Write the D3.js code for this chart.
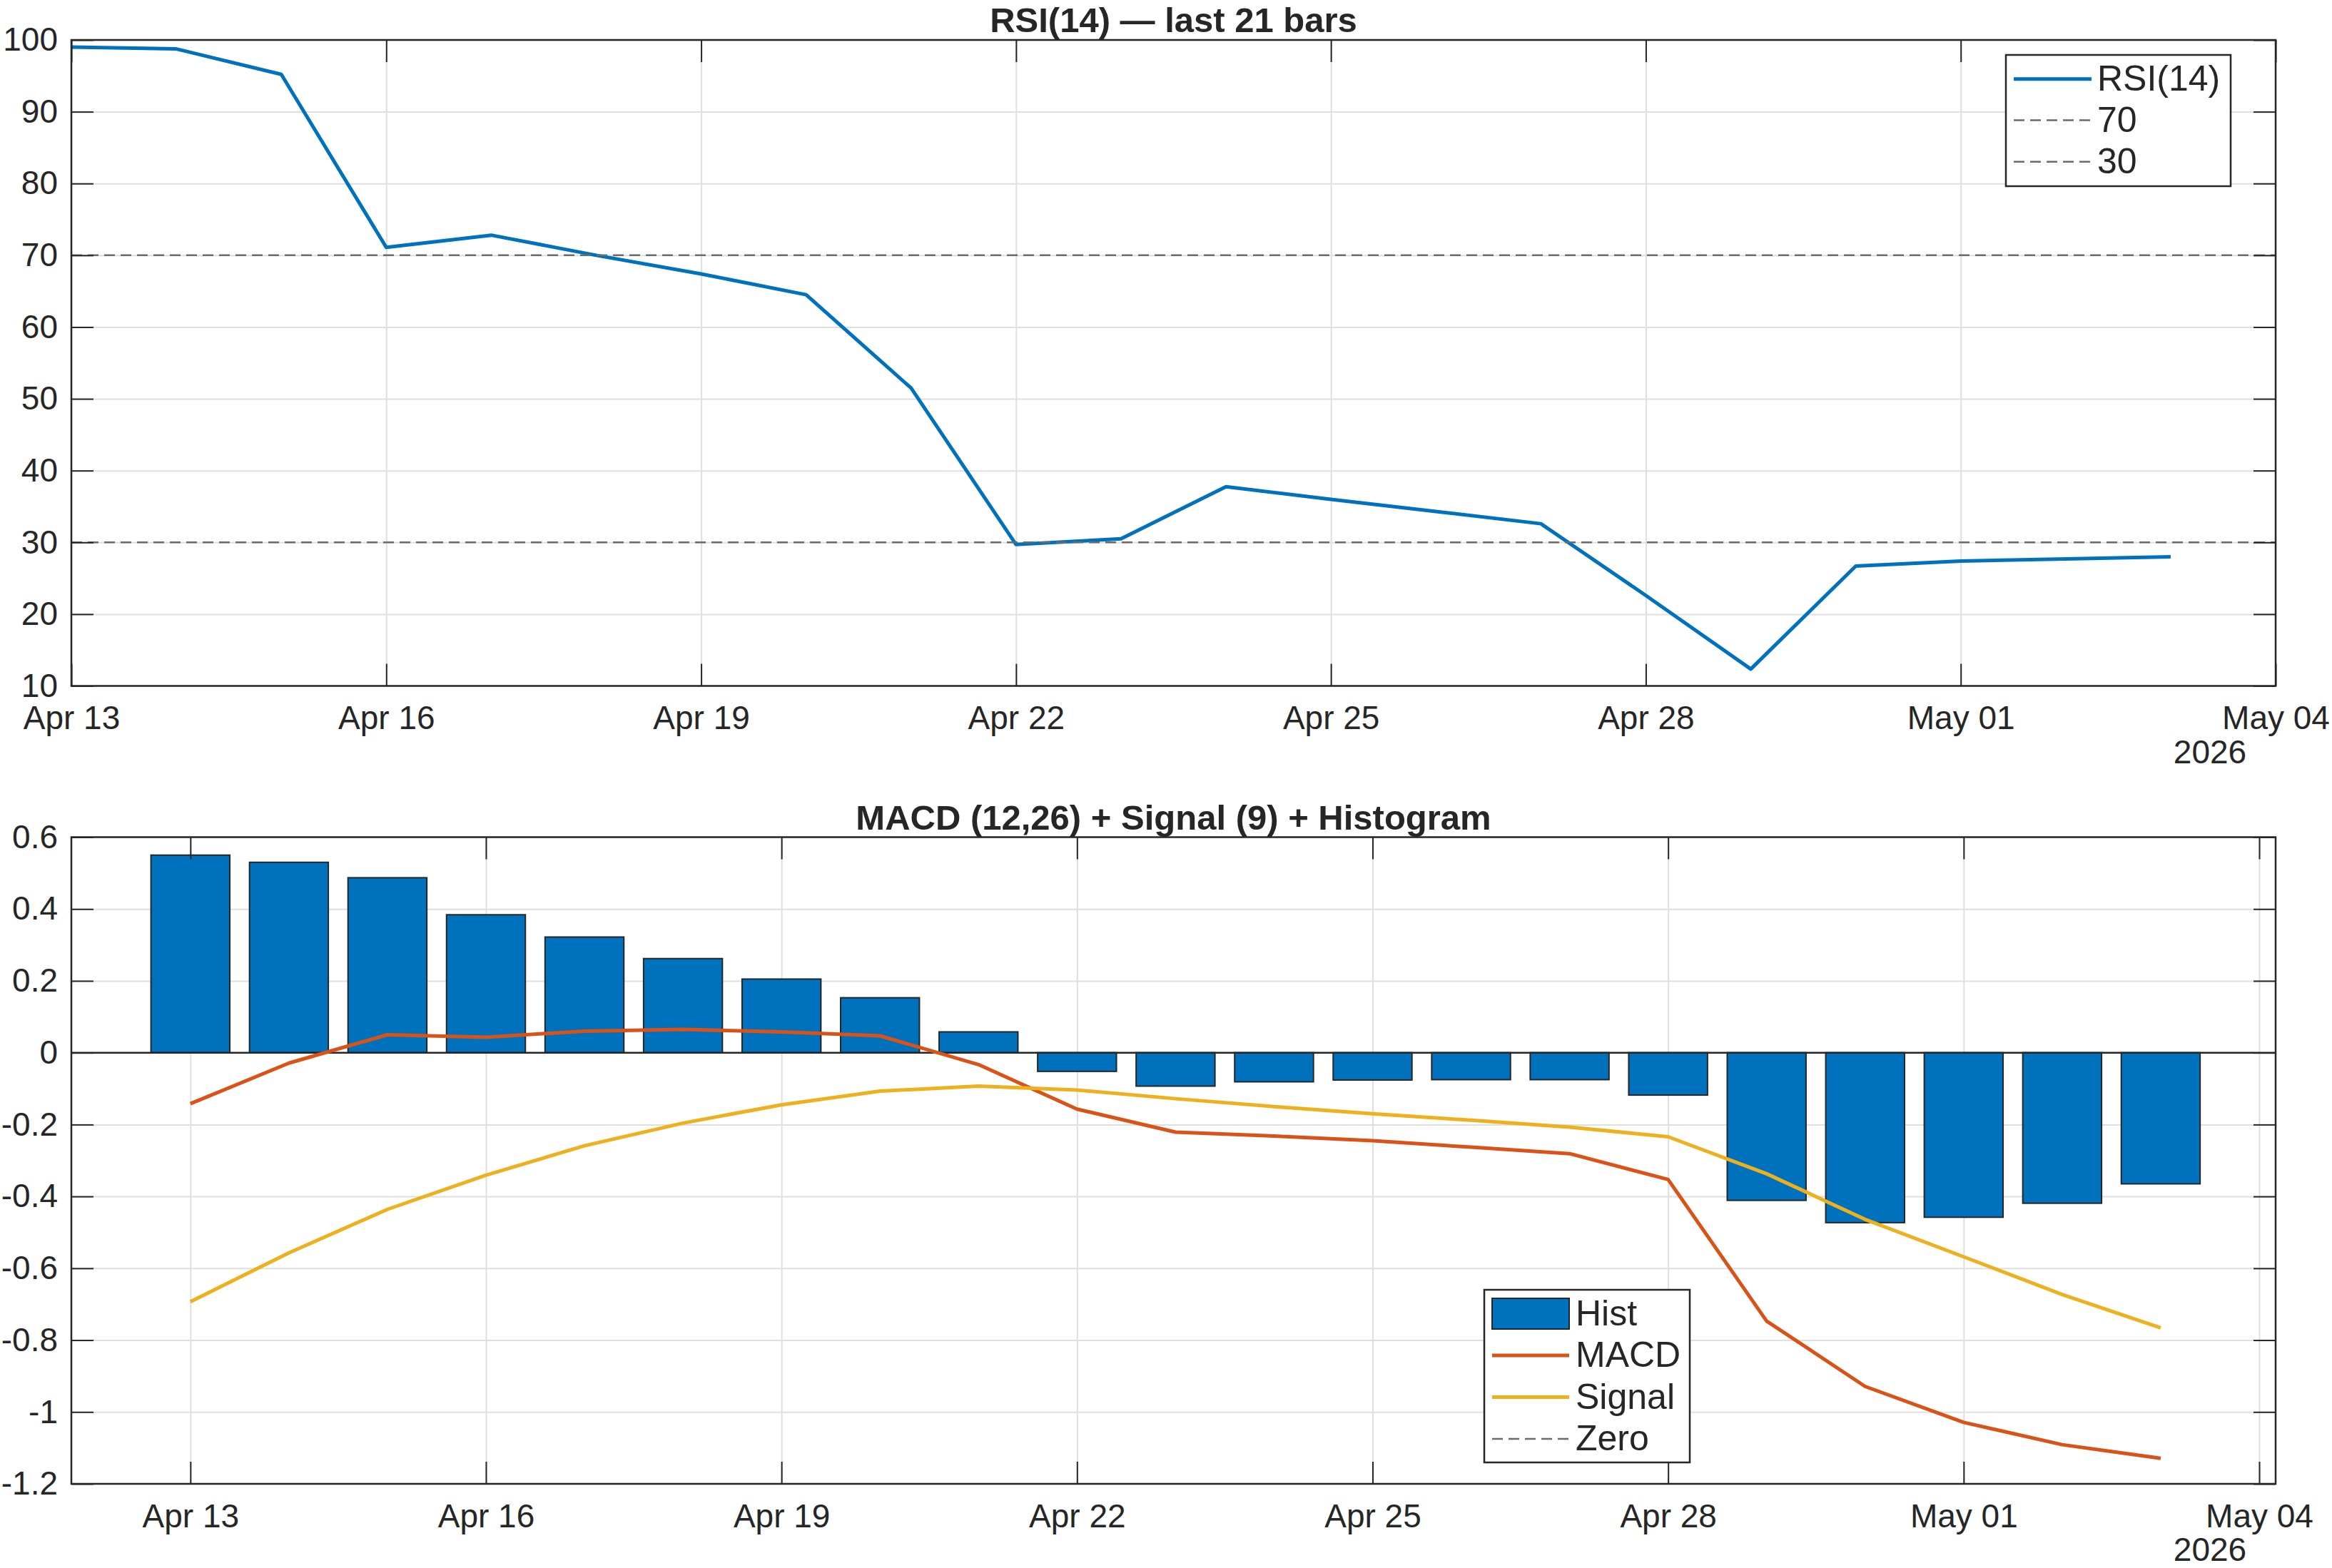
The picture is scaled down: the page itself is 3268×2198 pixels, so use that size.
<!DOCTYPE html>
<html><head><meta charset="utf-8">
<script src="https://cdn.jsdelivr.net/npm/d3@7/dist/d3.min.js"></script>
<style>body{margin:0;background:#fff}</style>
</head><body>
<svg id="c" width="3268" height="2198" xmlns="http://www.w3.org/2000/svg"></svg>
<script>
// ---------------- data ----------------
const dates = ["2026-04-13","2026-04-14","2026-04-15","2026-04-16","2026-04-17","2026-04-18","2026-04-19",
               "2026-04-20","2026-04-21","2026-04-22","2026-04-23","2026-04-24","2026-04-25","2026-04-26",
               "2026-04-27","2026-04-28","2026-04-29","2026-04-30","2026-05-01","2026-05-02","2026-05-03"];
const rsi = [99.0, 98.75, 95.2, 71.1, 72.8, 70.0, 67.4, 64.5, 51.5, 29.7, 30.5, 37.75, 36.0, 34.3, 32.6, 22.6, 12.35, 26.7, 27.4, 27.7, 28.0];
const hist = [0.550, 0.530, 0.487, 0.384, 0.322, 0.262, 0.205, 0.153, 0.058, -0.052, -0.093, -0.081, -0.076, -0.075, -0.075, -0.118, -0.411, -0.473, -0.458, -0.419, -0.365];
const macd = [-0.142, -0.029, 0.050, 0.043, 0.060, 0.065, 0.058, 0.047, -0.033, -0.157, -0.221, -0.232, -0.245, -0.263, -0.281, -0.353, -0.747, -0.929, -1.029, -1.091, -1.129];
const signal = [-0.693, -0.557, -0.436, -0.341, -0.259, -0.196, -0.145, -0.107, -0.093, -0.104, -0.128, -0.150, -0.170, -0.188, -0.207, -0.234, -0.337, -0.464, -0.568, -0.673, -0.766];
const rsiLevels = [70, 30];
const zeroLevel = [0];
const rsiTicks = [10, 20, 30, 40, 50, 60, 70, 80, 90, 100];
const macdTicks = [-1.2, -1, -0.8, -0.6, -0.4, -0.2, 0, 0.2, 0.4, 0.6];
const macdTickLabels = ["-1.2", "-1", "-0.8", "-0.6", "-0.4", "-0.2", "0", "0.2", "0.4", "0.6"];
const xTickDates = ["2026-04-13","2026-04-16","2026-04-19","2026-04-22","2026-04-25","2026-04-28","2026-05-01","2026-05-04"];
const rsiLegend = ["RSI(14)", "70", "30"];
const macdLegend = ["Hist", "MACD", "Signal", "Zero"];
const titles = ["RSI(14) \u2014 last 21 bars", "MACD (12,26) + Signal (9) + Histogram"];
const yearLabel = "2026";

// ---------------- setup ----------------
const parse = d3.utcParse("%Y-%m-%d");
const D = dates.map(parse);
const XT = xTickDates.map(parse);
const fmt = d3.utcFormat("%b %d");

const FONT = "'Liberation Sans', Arial, Helvetica, sans-serif";
const INK = "#262626", GRID = "#dfdfdf", DASH = "#6b6b6b";
const C_BLUE = "#0072BD", C_ORANGE = "#D95319", C_YELLOW = "#EDB120";
const L = 100, R = 3189;
const T1 = 56, B1 = 961.5, T2 = 1173.5, B2 = 2080;
const TICK = 31, TICKFS = 46, LW = 5;

const svg = d3.select("#c");
svg.append("rect").attr("width", 3268).attr("height", 2198).attr("fill", "#fff");

const x1 = d3.scaleUtc().domain([parse("2026-04-13"), parse("2026-05-04")]).range([L, R]);
const x2 = d3.scaleUtc().domain([d3.utcHour.offset(parse("2026-04-13"), -28.75), d3.utcHour.offset(parse("2026-05-04"), 4.7)]).range([L, R]);
const y1 = d3.scaleLinear().domain([10, 100]).range([B1, T1]);
const y2 = d3.scaleLinear().domain([-1.2, 0.6]).range([B2, T2]);

function grid(x, y, T, B, yTicks) {
  const g = svg.append("g");
  const gx = g.append("g").attr("transform", `translate(0,${B})`)
    .call(d3.axisBottom(x).tickValues(XT).tickSize(-(B - T)).tickFormat(""));
  const gy = g.append("g").attr("transform", `translate(${L},0)`)
    .call(d3.axisLeft(y).tickValues(yTicks).tickSize(-(R - L)).tickFormat(""));
  [gx, gy].forEach(a => {
    a.select(".domain").remove();
    a.selectAll("line").attr("stroke", GRID).attr("stroke-width", 2);
  });
}

function frame(x, y, T, B, yTicks, yFmt, title) {
  const g = svg.append("g");
  const styleAxis = a => {
    a.select(".domain").remove();
    a.selectAll("line").attr("stroke", INK).attr("stroke-width", 2);
    a.attr("font-size", TICKFS).attr("font-family", FONT);
    a.selectAll("text").attr("fill", INK);
  };
  styleAxis(g.append("g").attr("transform", `translate(0,${B})`)
    .call(d3.axisBottom(x).tickValues(XT).tickSize(-TICK).tickPadding(28).tickFormat(fmt)));
  styleAxis(g.append("g").attr("transform", `translate(0,${T})`)
    .call(d3.axisTop(x).tickValues(XT).tickSize(-TICK).tickFormat("")));
  styleAxis(g.append("g").attr("transform", `translate(${L},0)`)
    .call(d3.axisLeft(y).tickValues(yTicks).tickSize(-TICK).tickPadding(19).tickFormat(yFmt)));
  styleAxis(g.append("g").attr("transform", `translate(${R},0)`)
    .call(d3.axisRight(y).tickValues(yTicks).tickSize(-TICK).tickFormat("")));
  g.append("rect").attr("x", L).attr("y", T).attr("width", R - L).attr("height", B - T)
    .attr("fill", "none").attr("stroke", INK).attr("stroke-width", 2.5);
  g.append("text").attr("x", 3097).attr("y", B + 108).attr("text-anchor", "middle")
    .attr("font-family", FONT).attr("font-size", TICKFS).attr("fill", INK).text(yearLabel);
  g.append("text").attr("x", (L + R) / 2).attr("y", T - 11).attr("text-anchor", "middle")
    .attr("font-family", FONT).attr("font-size", 49).attr("font-weight", "bold").attr("fill", INK).text(title);
}

// ---------------- RSI panel ----------------
grid(x1, y1, T1, B1, rsiTicks);
const clip1 = svg.append("defs").append("clipPath").attr("id", "clip1");
clip1.append("rect").attr("x", L).attr("y", T1).attr("width", R - L).attr("height", B1 - T1);
const p1 = svg.append("g").attr("clip-path", "url(#clip1)");
p1.append("path").datum(rsi)
  .attr("d", d3.line().x((d, i) => x1(D[i])).y(d => y1(d)))
  .attr("fill", "none").attr("stroke", C_BLUE).attr("stroke-width", LW).attr("stroke-linejoin", "round");
p1.selectAll("line.lvl").data(rsiLevels).join("line").attr("class", "lvl")
  .attr("x1", L).attr("x2", R).attr("y1", d => y1(d)).attr("y2", d => y1(d))
  .attr("stroke", DASH).attr("stroke-width", 2.5).attr("stroke-dasharray", "15,8");
frame(x1, y1, T1, B1, rsiTicks, d3.format("d"), titles[0]);

// RSI legend
{
  const g = svg.append("g");
  g.append("rect").attr("x", 2811).attr("y", 77).attr("width", 315).attr("height", 184)
    .attr("fill", "#fff").attr("stroke", INK).attr("stroke-width", 2.5);
  const rows = [110.7, 168.6, 226.8];
  rsiLegend.forEach((t, i) => {
    const ln = g.append("line").attr("x1", 2822).attr("x2", 2931).attr("y1", rows[i]).attr("y2", rows[i]);
    if (i === 0) ln.attr("stroke", C_BLUE).attr("stroke-width", LW);
    else ln.attr("stroke", DASH).attr("stroke-width", 2.5).attr("stroke-dasharray", "15,8");
    g.append("text").attr("x", 2939).attr("y", rows[i] + 16.5).attr("font-family", FONT)
      .attr("font-size", 50).attr("fill", INK).text(t);
  });
}

// ---------------- MACD panel ----------------
grid(x2, y2, T2, B2, macdTicks);
const clip2 = svg.append("defs").append("clipPath").attr("id", "clip2");
clip2.append("rect").attr("x", L).attr("y", T2).attr("width", R - L).attr("height", B2 - T2);
const p2 = svg.append("g").attr("clip-path", "url(#clip2)");
const dayW = x2(D[1]) - x2(D[0]);
const bw = 0.8 * dayW;
p2.selectAll("rect.bar").data(hist).join("rect").attr("class", "bar")
  .attr("x", (d, i) => x2(D[i]) - bw / 2).attr("width", bw)
  .attr("y", d => y2(Math.max(0, d))).attr("height", d => Math.abs(y2(d) - y2(0)))
  .attr("fill", C_BLUE).attr("stroke", INK).attr("stroke-width", 2);
p2.selectAll("line.zero").data(zeroLevel).join("line").attr("class", "zero")
  .attr("x1", L).attr("x2", R).attr("y1", d => y2(d)).attr("y2", d => y2(d))
  .attr("stroke", INK).attr("stroke-width", 2.5);
p2.append("path").datum(macd)
  .attr("d", d3.line().x((d, i) => x2(D[i])).y(d => y2(d)))
  .attr("fill", "none").attr("stroke", C_ORANGE).attr("stroke-width", LW).attr("stroke-linejoin", "round");
p2.append("path").datum(signal)
  .attr("d", d3.line().x((d, i) => x2(D[i])).y(d => y2(d)))
  .attr("fill", "none").attr("stroke", C_YELLOW).attr("stroke-width", LW).attr("stroke-linejoin", "round");
frame(x2, y2, T2, B2, macdTicks, (d, i) => macdTickLabels[macdTicks.indexOf(d)], titles[1]);

// MACD legend
{
  const g = svg.append("g");
  g.append("rect").attr("x", 2080).attr("y", 1808).attr("width", 288).attr("height", 242)
    .attr("fill", "#fff").attr("stroke", INK).attr("stroke-width", 2.5);
  const rows = [1841.5, 1900, 1958.5, 2017];
  macdLegend.forEach((t, i) => {
    if (i === 0) {
      g.append("rect").attr("x", 2091).attr("y", 1820).attr("width", 108).attr("height", 43)
        .attr("fill", C_BLUE).attr("stroke", INK).attr("stroke-width", 2);
    } else {
      const ln = g.append("line").attr("x1", 2091).attr("x2", 2199).attr("y1", rows[i]).attr("y2", rows[i]);
      if (i === 1) ln.attr("stroke", C_ORANGE).attr("stroke-width", LW);
      else if (i === 2) ln.attr("stroke", C_YELLOW).attr("stroke-width", LW);
      else ln.attr("stroke", DASH).attr("stroke-width", 2.5).attr("stroke-dasharray", "15,8");
    }
    g.append("text").attr("x", 2208).attr("y", rows[i] + 16).attr("font-family", FONT)
      .attr("font-size", 50).attr("fill", INK).text(t);
  });
}
</script>
</body></html>
